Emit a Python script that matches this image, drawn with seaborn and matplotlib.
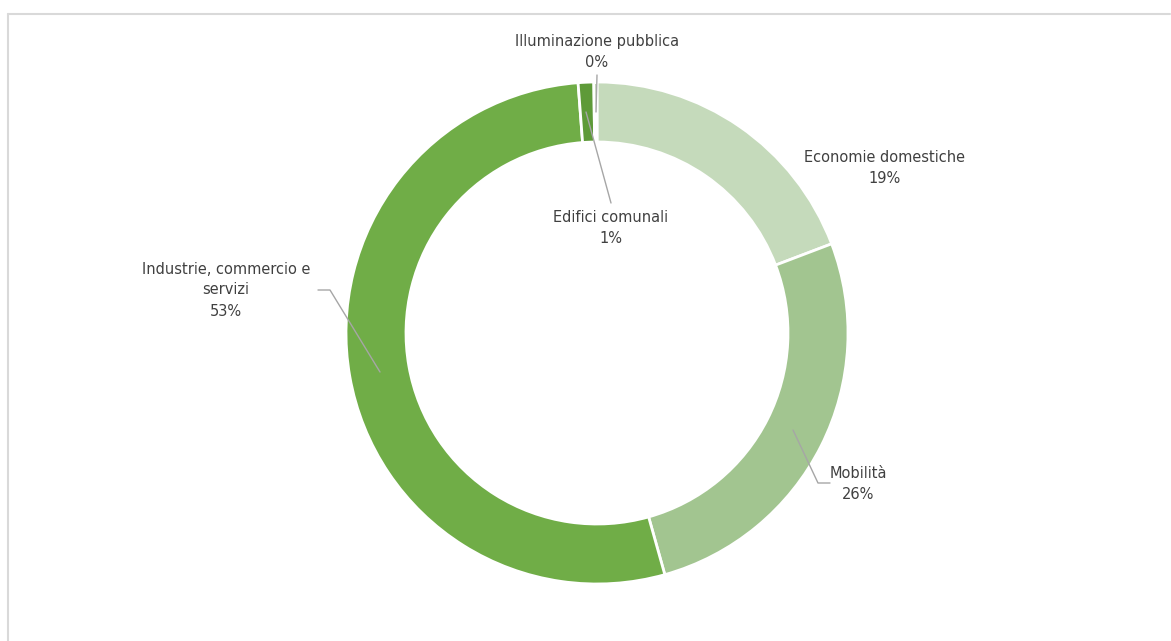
import matplotlib
matplotlib.use("Agg")
import matplotlib.pyplot as plt
import seaborn as sns

# Shares of final energy consumption by sector (%)
sectors = ["Economie domestiche", "Mobilità", "Industrie, commercio e\nservizi",
           "Edifici comunali", "Illuminazione pubblica"]
shares = [19.2, 26.4, 53.1, 1.0, 0.2]
pct_labels = ["19%", "26%", "53%", "1%", "0%"]
colors = ["#c5dabb", "#a2c590", "#70ad47", "#5e9a38", "#4f8a2e"]

sns.set_theme(style="white")
plt.rcParams["font.family"] = ["DejaVu Sans"]

W, H = 1171, 641
fig = plt.figure(figsize=(W / 100, H / 100), dpi=100)
ax = fig.add_axes([0, 0, 1, 1])

cx, cy = 597, H - 333
R = 251
ring = 60

ax.pie(shares, colors=colors, startangle=90, counterclock=False,
       radius=R, center=(cx, cy), frame=True,
       wedgeprops=dict(width=ring, edgecolor="white", linewidth=2))
ax.set_xlim(0, W)
ax.set_ylim(0, H)
ax.set_aspect("equal")
ax.axis("off")

# Frame border (top and left edges)
ax.plot([8, 8], [H - 14, -5], color="#d9d9d9", lw=1.5, clip_on=False)
ax.plot([8, 1170], [H - 14, H - 14], color="#d9d9d9", lw=1.5, clip_on=False)

txt = dict(fontsize=11.7, color="#404040", ha="center", va="center",
           linespacing=1.5, fontstretch="condensed")
lead = dict(color="#a6a6a6", lw=1)

def Y(p):
    return H - p

# Category labels with percentage
positions = [(885, 168), (858, 484), (226, 290), (611, 228), (597, 52)]
for name, pct, (x, y) in zip(sectors, pct_labels, positions):
    ax.text(x, Y(y), f"{name}\n{pct}", **txt)

# Leader lines
ax.plot([318, 330, 380], [Y(290), Y(290), Y(372)], **lead)
ax.plot([793, 818, 830], [Y(430), Y(483), Y(483)], **lead)
ax.plot([586, 611], [Y(112), Y(203)], **lead)
ax.plot([597, 596], [Y(75), Y(112)], **lead)

fig.savefig("out.png", dpi=100, facecolor="white")
